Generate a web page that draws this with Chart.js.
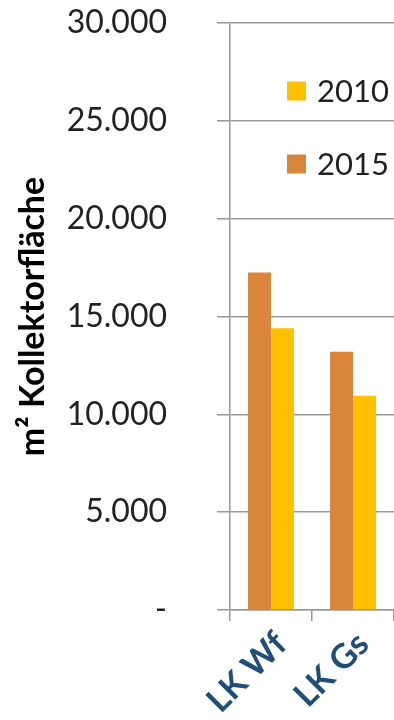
<!DOCTYPE html>
<html>
<head>
<meta charset="utf-8">
<script src="https://cdn.jsdelivr.net/npm/chart.js@4"></script>
<style>
  html, body { margin: 0; padding: 0; background: #fff; }
  #wrap { width: 394px; height: 720px; position: relative; }
</style>
</head>
<body>
<div id="wrap"><canvas id="chart"></canvas></div>
<script>
const categories = ['LK Wf', 'LK Gs'];
const values2015 = [17250, 13200];
const values2010 = [14400, 10950];
const legendOrder = ['2010', '2015'];

const yMin = 0;
const yMax = 30000;
const yStep = 5000;

const colors = {
  '2015': '#D9853B',
  '2010': '#FFC000'
};

function formatDE(v) {
  if (v === 0) return '-';
  return String(v).replace(/\B(?=(\d{3})+(?!\d))/g, '.');
}

// legend sits inside the plot, top right, 2010 above 2015
const insideLegend = {
  id: 'insideLegend',
  afterDraw(chart) {
    const ctx = chart.ctx;
    ctx.save();
    ctx.font = '31px Lato';
    ctx.textBaseline = 'middle';
    ctx.textAlign = 'left';
    legendOrder.forEach((name, i) => {
      const ds = chart.data.datasets.find(d => d.label === name);
      const cy = 91 + i * 73;
      ctx.fillStyle = ds.backgroundColor;
      ctx.fillRect(287, cy - 9.5, 19, 19);
      ctx.fillStyle = '#222';
      ctx.fillText(name, 317, cy + 1);
    });
    ctx.restore();
  }
};

new Chart(document.getElementById('chart'), {
  type: 'bar',
  data: {
    labels: categories,
    datasets: [
      { label: '2015', data: values2015, backgroundColor: colors['2015'] },
      { label: '2010', data: values2010, backgroundColor: colors['2010'] }
    ]
  },
  options: {
    responsive: true,
    maintainAspectRatio: false,
    animation: false,
    layout: { padding: { top: 23, right: 0, left: 0, bottom: 0 } },
    datasets: {
      bar: { categoryPercentage: 0.56, barPercentage: 1.0 }
    },
    plugins: {
      legend: { display: false },
      tooltip: { enabled: false }
    },
    scales: {
      x: {
        grid: {
          offset: true,
          drawOnChartArea: false,
          drawTicks: true,
          tickLength: 11,
          color: '#999',
          lineWidth: 1.5
        },
        border: { display: true, color: '#999', width: 1.5 },
        ticks: {
          minRotation: 45,
          maxRotation: 45,
          padding: 3,
          labelOffset: 10,
          color: '#1F4E79',
          font: { family: 'Lato', size: 34, weight: 'bold' }
        },
        afterFit(scale) {
          scale.height = 110;
          scale.paddingLeft = 0;
          scale.paddingRight = 0;
        }
      },
      y: {
        min: yMin,
        max: yMax,
        ticks: {
          stepSize: yStep,
          padding: 50,
          color: '#222',
          font: { family: 'Lato', size: 32 },
          callback: v => formatDE(v)
        },
        grid: {
          color: '#999',
          lineWidth: 1.5,
          drawTicks: true,
          tickLength: 13
        },
        border: { display: true, color: '#999', width: 1.5 },
        title: {
          display: true,
          text: 'm² Kollektorfläche',
          color: '#000',
          font: { family: 'Lato', size: 34, weight: 'bold' },
          padding: { top: 13, bottom: 0 }
        },
        afterFit(scale) {
          scale.width = 230;
          scale.paddingTop = 0;
          scale.paddingBottom = 0;
        }
      }
    }
  },
  plugins: [insideLegend]
});
</script>
</body>
</html>
